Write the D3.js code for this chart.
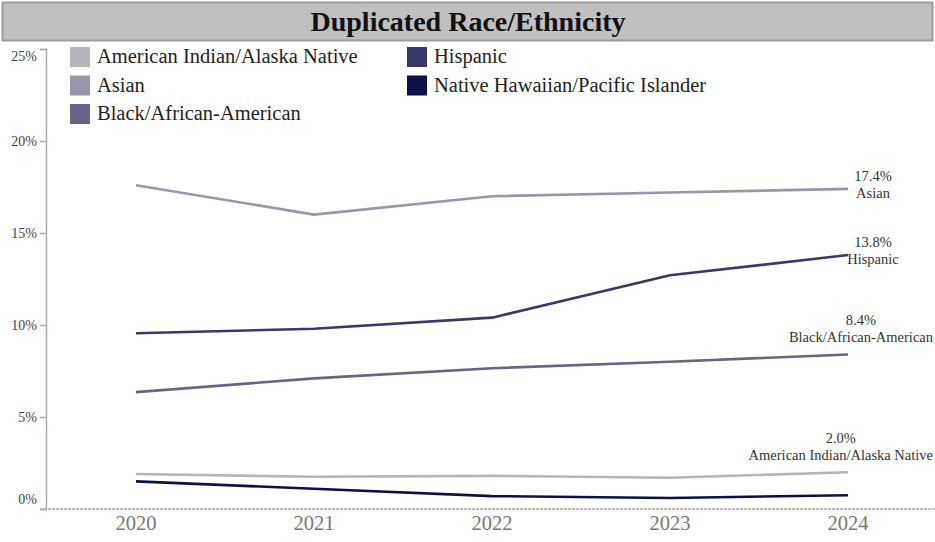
<!DOCTYPE html>
<html><head><meta charset="utf-8">
<script src="https://cdn.jsdelivr.net/npm/d3@7"></script>
<style>body{margin:0;background:#fff}svg{display:block}text{font-family:"Liberation Serif","Times New Roman",serif}</style>
</head><body><svg id="c" width="935" height="542"></svg>
<script>
const years = ["2020","2021","2022","2023","2024"];
const seriesNames = ["American Indian/Alaska Native","Asian","Black/African-American","Hispanic","Native Hawaiian/Pacific Islander"];
const colors = ["#b5b4bd","#9896ab","#67648a","#3a3868","#0c1247"];
const aian = [1.9,1.75,1.8,1.7,2.0];
const asian = [17.6,16.0,17.0,17.2,17.4];
const black = [6.35,7.1,7.65,8.0,8.4];
const hispanic = [9.55,9.8,10.4,12.7,13.8];
const nhpi = [1.5,1.1,0.7,0.6,0.75];
const yTicks = [0,5,10,15,20,25];
const endLabelled = ["Asian","Hispanic","Black/African-American","American Indian/Alaska Native"];

const values = [aian,asian,black,hispanic,nhpi];
const svg = d3.select("#c");
const W=935,H=542;
// title
svg.append("rect").attr("x",2.5).attr("y",2.5).attr("width",930).attr("height",38)
  .attr("fill","#c0c0c0").attr("stroke","#9c9c9c").attr("stroke-width",2);
svg.append("text").attr("x",468).attr("y",31).attr("text-anchor","middle")
  .attr("font-size",28).attr("font-weight","bold").attr("fill","#111").text("Duplicated Race/Ethnicity");

const x = d3.scaleBand().domain(years).range([47,937]);
const y = d3.scaleLinear().domain([0,25]).range([509,49]);
// y axis
const ya = svg.append("g").attr("transform","translate(46,0)")
  .call(d3.axisLeft(y).tickValues(yTicks).tickSize(6).tickFormat(d=>d+"%"));
ya.select(".domain").attr("stroke","#aaa").attr("stroke-width",1.5);
ya.selectAll(".tick line").attr("stroke","#aaa").attr("stroke-width",1.5);
ya.selectAll(".tick text").attr("font-size",14).attr("fill","#444").attr("font-family","Liberation Serif")
  .attr("x",-9).attr("dy",d=>d===0?"-0.4em":d===25?"0.85em":"0.32em");
// x axis baseline
svg.append("line").attr("x1",40).attr("x2",935).attr("y1",509).attr("y2",509)
  .attr("stroke","#aaa").attr("stroke-width",1.5).attr("stroke-dasharray","3,1");
const xa = svg.append("g").attr("transform","translate(0,509)")
  .call(d3.axisBottom(x).tickSize(0));
xa.select(".domain").remove();
xa.selectAll(".tick text").attr("font-size",20.5).attr("fill","#777").attr("dy","0.9em").attr("font-family","Liberation Serif");

// lines
const line = d3.line().x((d,i)=>x(years[i])+x.bandwidth()/2).y(d=>y(d));
values.forEach((v,k)=>{
  svg.append("path").datum(v).attr("d",line).attr("fill","none")
    .attr("stroke",colors[k]).attr("stroke-width",2.6).attr("stroke-linejoin","round");
});
// end labels
const labelAbove = {"Asian":false,"Hispanic":false,"Black/African-American":true,"American Indian/Alaska Native":true};
endLabelled.forEach(name=>{
  const k = seriesNames.indexOf(name);
  const v = values[k];
  const ex = x(years[4])+x.bandwidth()/2, ey = y(v[4]);
  const g = svg.append("g");
  const t1 = g.append("text").attr("font-size",14.5).attr("fill","#333").attr("text-anchor","middle").text(v[4].toFixed(1)+"%");
  const t2 = g.append("text").attr("font-size",14.5).attr("fill","#333").attr("text-anchor","middle").text(name);
  const w = Math.max(t2.node().getComputedTextLength(), t1.node().getComputedTextLength());
  let cx = Math.min(ex + 25, W - 2 - w/2);
  const base = labelAbove[name] ? ey - 29 : ey - 8;
  t1.attr("x",cx).attr("y",base);
  t2.attr("x",cx).attr("y",base+17);
});
// legend
const leg = svg.append("g");
seriesNames.forEach((n,i)=>{
  const col = i<3?0:1, row = i<3?i:i-3;
  const lx = col===0?70:407, ly = 47 + row*28.5;
  leg.append("rect").attr("x",lx).attr("y",ly).attr("width",20).attr("height",20).attr("fill",colors[i]);
  leg.append("text").attr("x",lx+27).attr("y",ly+16).attr("font-size",20.5).attr("fill","#222").text(n);
});
</script></body></html>
